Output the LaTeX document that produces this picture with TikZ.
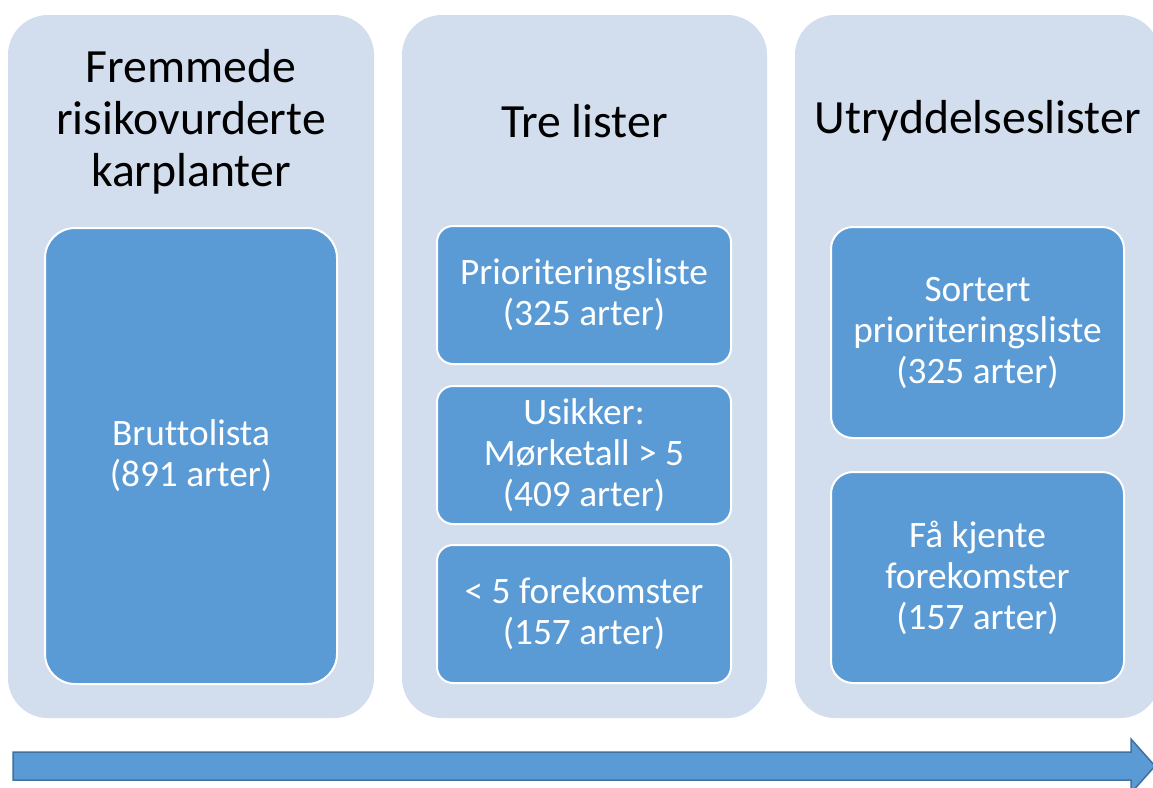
\documentclass[tikz,border=0pt]{standalone}
\usepackage{fontspec}
\setmainfont{Carlito}[Ligatures=NoCommon]
\definecolor{panelbg}{HTML}{D2DDEE}
\definecolor{boxblue}{HTML}{5B9BD5}
\definecolor{arrowedge}{HTML}{41719C}
\tikzset{
  panel/.style={fill=panelbg, draw=none, rounded corners=40pt, inner sep=0pt},
  title/.style={align=center, text=black, font=\fontsize{47.7}{52}\selectfont, inner sep=0pt},
  item/.style={fill=boxblue, draw=white, line width=2pt, align=center, text=white,
    font=\fontsize{37.3}{41}\selectfont, inner sep=0pt},
  blockarrow/.style={fill=boxblue, draw=arrowedge, line width=1.5pt, line join=miter}
}
\begin{document}
\begin{tikzpicture}[x=1pt,y=-1pt]
\useasboundingbox (0,0) rectangle (1153,787);
\clip (0,0) rectangle (1153,787);
\fill[white] (0,0) rectangle (1153,787);
% panels
\node[panel, minimum width=366pt, minimum height=703pt] (p1) at (191,366.5) {};
\node[panel, minimum width=365pt, minimum height=703pt] (p2) at (584.5,366.5) {};
\node[panel, minimum width=365pt, minimum height=703pt] (p3) at (977.5,366.5) {};
% titles
\node[title] (t1) at (191,122) {Fremmede\\risikovurderte\\karplanter};
\node[title] (t2) at (584.5,121) {Tre lister};
\node[title] (t3) at (977.5,121) {Utryddelseslister};
% column 1
\node[item, rounded corners=30pt, minimum width=292pt, minimum height=456pt] (b1) at (191,456) {Bruttolista\\(891 arter)};
% column 2
\node[item, rounded corners=16pt, minimum width=294pt, minimum height=138pt] (b21) at (584,295) {Prioriteringsliste\\(325 arter)};
\node[item, rounded corners=16pt, minimum width=294pt, minimum height=138pt] (b22) at (584,455) {Usikker:\\Mørketall > 5\\(409 arter)};
\node[item, rounded corners=16pt, minimum width=294pt, minimum height=138pt] (b23) at (584,614) {< 5 forekomster\\(157 arter)};
% column 3
\node[item, rounded corners=22pt, minimum width=293pt, minimum height=211pt] (b31) at (977.5,332.5) {Sortert\\prioriteringsliste\\(325 arter)};
\node[item, rounded corners=22pt, minimum width=293pt, minimum height=211pt] (b32) at (977.5,577.5) {Få kjente\\forekomster\\(157 arter)};
% block arrow
\draw[blockarrow] (13,752) -- (1131,752) -- (1131,739) -- (1155,766) -- (1131,793) -- (1131,780) -- (13,780) -- cycle;
\end{tikzpicture}
\end{document}
